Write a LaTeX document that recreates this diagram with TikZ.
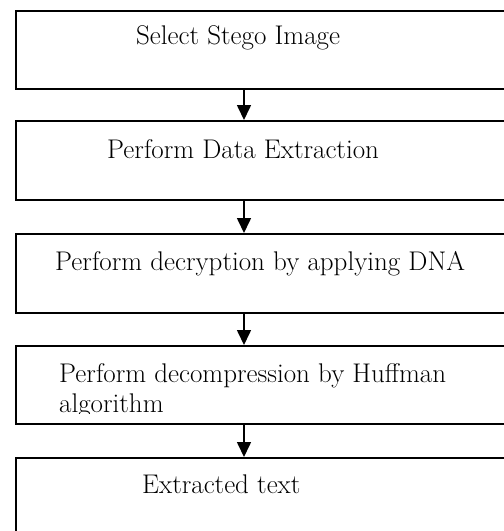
\documentclass[tikz,border=0pt]{standalone}
\usepackage{fontspec}
\usepackage{tikz}
\usetikzlibrary{arrows.meta}

\tikzset{
  stepbox/.style={draw, line width=1.6pt, rectangle, anchor=north west, minimum width=520pt, inner sep=0pt},
  steptext/.style={anchor=base west, inner sep=0pt, font=\fontsize{27}{30}\selectfont, align=left},
  flow/.style={line width=1.6pt, -{Triangle[width=14pt,length=15pt]}}
}

\begin{document}
\begin{tikzpicture}[x=1pt, y=-1pt]
\clip (0,0) rectangle (504,531);

\node[stepbox, minimum height=78pt] (b1) at (15,10) {};
\node[stepbox, minimum height=79pt] (b2) at (15,120) {};
\node[stepbox, minimum height=79pt] (b3) at (15,233) {};
\node[stepbox, minimum height=78pt] (b4) at (15,345) {};
\node[stepbox, minimum height=90pt] (b5) at (15,457) {};

\node[steptext] (t1) at (136,44) {Select Stego Image};
\node[steptext] (t2) at (107,158) {Perform Data Extraction};
\node[steptext] (t3) at (55,270) {Perform decryption by applying DNA};
% second line runs into the box edge and is cut off
\begin{scope}
\clip (0,345) rectangle (504,413);
\node[steptext] (t4) at (59,412) {Perform decompression by Huffman\\algorithm};
\end{scope}
\node[steptext] (t5) at (142,493) {Extracted text};

\coordinate (ax) at (244,0);
\draw[flow] (b1.south -| ax) -- (b2.north -| ax);
\draw[flow] (b2.south -| ax) -- (b3.north -| ax);
\draw[flow] (b3.south -| ax) -- (b4.north -| ax);
\draw[flow] (b4.south -| ax) -- (b5.north -| ax);
\end{tikzpicture}
\end{document}
